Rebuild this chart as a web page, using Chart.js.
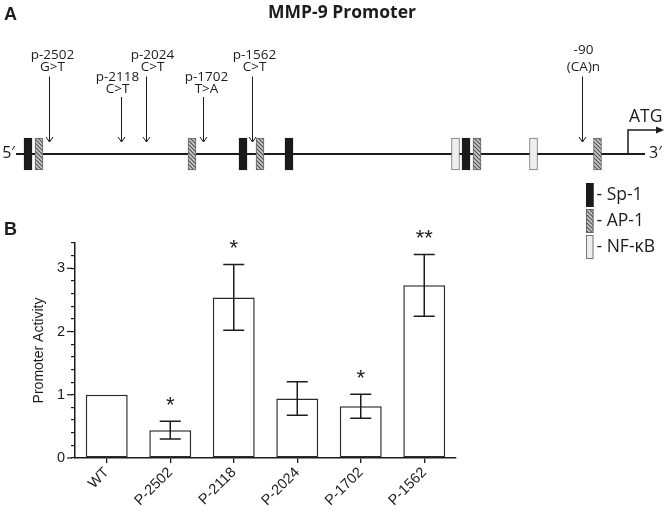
<!DOCTYPE html>
<html>
<head>
<meta charset="utf-8">
<script src="https://cdn.jsdelivr.net/npm/chart.js@4/dist/chart.umd.min.js"></script>
<style>
html,body{margin:0;padding:0;background:#fff;}
#wrap{position:relative;width:670px;height:510px;overflow:hidden;background:#fff;}
#wrap canvas{position:absolute;left:0;top:0;}
</style>
</head>
<body>
<div id="wrap">
  <canvas id="chartB" width="670" height="510"></canvas>
  <canvas id="chartA" width="670" height="270"></canvas>
</div>
<script>
// ---------- Panel A data (schematic positions, bp relative to ATG, not to scale) ----------
const figureTitle = 'MMP-9 Promoter';
const promoterStart = -2448;
const promoterEnd = 68;
const atgPos = 0;
const diagramMin = -2512;
const diagramMax = 168;
const siteLabels = ['Sp-1', 'AP-1', 'NF-κB'];
const siteSp1 = [-2400, -1540, -1356, -648];
const siteAP1 = [-2356, -1744, -1472, -604, -122];
const siteNFkB = [-690, -378];
const mutationPos = [-2316, -2028, -1928, -1700, -1504, -184];
const mutationName = ['p-2502', 'p-2118', 'p-2024', 'p-1702', 'p-1562', '-90'];
const mutationChange = ['G>T', 'C>T', 'C>T', 'T>A', 'C>T', '(CA)n'];

// ---------- Panel B data ----------
const categories = ['WT', 'P-2502', 'P-2118', 'P-2024', 'P-1702', 'P-1562'];
const activity = [1.0, 0.44, 2.54, 0.94, 0.82, 2.73];
const activityErr = [0, 0.14, 0.52, 0.265, 0.19, 0.49];
const significance = ['', '*', '*', '', '*', '**'];
const yTicks = [0, 1, 2, 3];
const yMax = 3.4;
const yMinorStep = 0.2;

const INK = '#1c1c1c';
const SANS = '"Liberation Sans", Arial, Helvetica, sans-serif';
const MYR = '"Open Sans", "Noto Sans", sans-serif';

// hatch pattern for AP-1
const ctxA = document.getElementById('chartA').getContext('2d');
function makeHatch() {
  const c = document.createElement('canvas');
  c.width = 4; c.height = 4;
  const g = c.getContext('2d');
  g.fillStyle = '#c8c8c8';
  g.fillRect(0, 0, 4, 4);
  g.strokeStyle = '#505050';
  g.lineWidth = 1.1;
  g.beginPath();
  g.moveTo(-1, -1); g.lineTo(5, 5);
  g.moveTo(-1, 3); g.lineTo(1, 5);
  g.moveTo(3, -1); g.lineTo(5, 1);
  g.stroke();
  return ctxA.createPattern(c, 'repeat');
}
const hatch = makeHatch();

const siteStyles = [
  { backgroundColor: '#1a1a1a', borderColor: '#1a1a1a' },
  { backgroundColor: hatch, borderColor: '#666' },
  { backgroundColor: '#eeeeee', borderColor: '#777' }
];

function boxData(arr) { return arr.map(p => ({ x: p, y: [-1, 1] })); }

// staggering of labels (style only)
const labelRow = [0, 1, 0, 1, 0, 0];
const labelShift = [3, -4, 6, 3, 2, 1];

const promoterDecor = {
  id: 'promoterDecor',
  afterDatasetsDraw(chart) {
    const { ctx, scales: { x, y } } = chart;
    const yLine = y.getPixelForValue(0);
    ctx.save();
    ctx.fillStyle = INK;
    ctx.strokeStyle = INK;
    // panel letter and title
    ctx.font = 'bold 18px ' + SANS;
    ctx.textAlign = 'left';
    ctx.textBaseline = 'middle';
    ctx.fillText('A', 4, 15);
    ctx.font = 'bold 17.5px ' + MYR;
    ctx.textAlign = 'center';
    ctx.fillText(figureTitle, 342, 13);

    // 5' and 3'
    ctx.font = '16px ' + MYR;
    ctx.textAlign = 'right';
    ctx.fillText('5\u2032', x.getPixelForValue(promoterStart) - 1, yLine - 1);
    ctx.textAlign = 'left';
    ctx.fillText('3\u2032', x.getPixelForValue(promoterEnd) + 4, yLine - 1);

    // ATG arrow
    const xa = x.getPixelForValue(atgPos);
    ctx.lineWidth = 1.5;
    ctx.beginPath();
    ctx.moveTo(xa, yLine);
    ctx.lineTo(xa, yLine - 24);
    ctx.lineTo(xa + 30, yLine - 24);
    ctx.stroke();
    ctx.beginPath();
    ctx.moveTo(xa + 36, yLine - 24);
    ctx.lineTo(xa + 28, yLine - 27.5);
    ctx.lineTo(xa + 28, yLine - 20.5);
    ctx.closePath();
    ctx.fill();
    ctx.font = '17.5px ' + MYR;
    ctx.textAlign = 'left';
    ctx.fillText('ATG', xa + 1, yLine - 37);

    // mutation arrows and labels
    ctx.lineWidth = 1;
    ctx.font = '13.5px ' + MYR;
    ctx.textAlign = 'center';
    for (let i = 0; i < mutationPos.length; i++) {
      const px = Math.round(x.getPixelForValue(mutationPos[i])) + 0.5;
      const top = yLine - (labelRow[i] ? 57 : 77.5);
      const tip = yLine - 12;
      ctx.beginPath();
      ctx.moveTo(px, top);
      ctx.lineTo(px, tip);
      ctx.moveTo(px - 3.5, tip - 5);
      ctx.lineTo(px, tip);
      ctx.lineTo(px + 3.5, tip - 5);
      ctx.stroke();
      const lx = px + labelShift[i];
      const g1 = labelRow[i] ? 7.5 : 9.5;
      const g2 = labelRow[i] ? 19.5 : (mutationName[i].length < 4 ? 26.5 : 21.5);
      ctx.fillText(mutationChange[i], lx, top - g1);
      ctx.fillText(mutationName[i], lx, top - g2);
    }

    // legend for binding sites
    const lx0 = 586, ly0 = 183, bw = 7.5, bh = 24, step = 26;
    ctx.font = '17.5px ' + MYR;
    ctx.textAlign = 'left';
    ctx.textBaseline = 'middle';
    for (let k = 0; k < siteLabels.length; k++) {
      const ds = chart.data.datasets[k + 1];
      const top = ly0 + k * step;
      ctx.fillStyle = ds.backgroundColor;
      ctx.fillRect(lx0, top, bw, bh);
      ctx.strokeStyle = ds.borderColor;
      ctx.lineWidth = 1;
      ctx.strokeRect(lx0 + 0.5, top + 0.5, bw - 1, bh - 1);
      ctx.fillStyle = INK;
      ctx.fillText('- ' + siteLabels[k], lx0 + bw + 3, top + bh / 2);
    }
    ctx.restore();
  }
};

new Chart(document.getElementById('chartA'), {
  type: 'bar',
  data: {
    datasets: [
      {
        type: 'line', label: 'promoter',
        data: [{ x: promoterStart, y: 0 }, { x: promoterEnd, y: 0 }],
        borderColor: INK, borderWidth: 2, pointRadius: 0, order: 5
      },
      Object.assign({ label: siteLabels[0], data: boxData(siteSp1) }, siteStyles[0]),
      Object.assign({ label: siteLabels[1], data: boxData(siteAP1) }, siteStyles[1]),
      Object.assign({ label: siteLabels[2], data: boxData(siteNFkB) }, siteStyles[2])
    ].map((d, i) => i === 0 ? d : Object.assign(d, {
      grouped: false, barThickness: 8, borderWidth: 1, borderSkipped: false, order: 1
    }))
  },
  options: {
    responsive: false,
    animation: false,
    devicePixelRatio: 1,
    layout: { padding: { top: 58, bottom: 20, left: 0, right: 0 } },
    plugins: { legend: { display: false }, tooltip: { enabled: false }, title: { display: false } },
    scales: {
      x: { type: 'linear', display: false, offset: false, min: diagramMin, max: diagramMax },
      y: { display: false, min: -6, max: 6 }
    }
  },
  plugins: [promoterDecor]
});

// ---------- Panel B ----------
const barDecor = {
  id: 'barDecor',
  afterDatasetsDraw(chart) {
    const { ctx, scales: { x, y }, chartArea } = chart;
    const meta = chart.getDatasetMeta(0);
    ctx.save();
    ctx.strokeStyle = INK;
    ctx.fillStyle = INK;
    // longer major ticks
    ctx.lineWidth = 1.2;
    for (const v of yTicks) {
      const py = y.getPixelForValue(v);
      ctx.beginPath();
      ctx.moveTo(chartArea.left - 8, py);
      ctx.lineTo(chartArea.left - 3, py);
      ctx.stroke();
    }
    // error bars
    ctx.lineWidth = 1.5;
    for (let i = 0; i < activity.length; i++) {
      const e = activityErr[i];
      const bx = meta.data[i].x;
      const topV = activity[i] + e;
      if (e > 0) {
        const t = y.getPixelForValue(topV);
        const b = y.getPixelForValue(activity[i] - e);
        ctx.beginPath();
        ctx.moveTo(bx, t); ctx.lineTo(bx, b);
        ctx.moveTo(bx - 10.5, t); ctx.lineTo(bx + 10.5, t);
        ctx.moveTo(bx - 10.5, b); ctx.lineTo(bx + 10.5, b);
        ctx.stroke();
      }
      if (significance[i]) {
        const cy = y.getPixelForValue(topV) - 22;
        ctx.font = '22px ' + SANS;
        ctx.textAlign = 'center';
        ctx.textBaseline = 'alphabetic';
        ctx.fillText(significance[i], bx, cy + 12.5);
      }
    }
    // panel letter
    ctx.font = 'bold 18px ' + SANS;
    ctx.textAlign = 'left';
    ctx.textBaseline = 'middle';
    ctx.fillText('B', 4, 230);
    ctx.restore();
  }
};

new Chart(document.getElementById('chartB'), {
  type: 'bar',
  data: {
    labels: categories,
    datasets: [{
      data: activity,
      backgroundColor: '#ffffff',
      borderColor: '#2a2a2a',
      borderWidth: 1.5,
      borderSkipped: false,
      categoryPercentage: 1,
      barPercentage: 0.66
    }]
  },
  options: {
    responsive: false,
    animation: false,
    devicePixelRatio: 1,
    layout: { padding: { top: 243, right: 214, left: 0, bottom: 0 } },
    plugins: { legend: { display: false }, tooltip: { enabled: false }, title: { display: false } },
    scales: {
      x: {
        grid: { display: true, drawOnChartArea: false, offset: false, tickLength: 5, color: INK, lineWidth: 1.3 },
        border: { display: true, color: INK, width: 1.5 },
        ticks: {
          color: INK, font: { family: SANS, size: 14.5 },
          minRotation: 45, maxRotation: 45, padding: 1, autoSkip: false
        },
        afterFit(s) { s.height = 52; }
      },
      y: {
        min: 0, max: yMax,
        grid: { drawOnChartArea: false, tickLength: 4, color: INK, lineWidth: 1.2 },
        border: { display: true, color: INK, width: 1.5 },
        ticks: {
          stepSize: yMinorStep, autoSkip: false, color: INK,
          font: { family: SANS, size: 14.5 }, padding: 6,
          callback: (v) => {
            const r = Math.round(v);
            return (Math.abs(v - r) < 1e-6 && yTicks.includes(r)) ? String(r) : '';
          }
        },
        title: {
          display: true, text: 'Promoter Activity', color: INK,
          font: { family: SANS, size: 14 }, padding: { top: 31, bottom: 0 }
        },
        afterFit(s) { s.width = 75; }
      }
    }
  },
  plugins: [barDecor]
});
</script>
</body>
</html>
